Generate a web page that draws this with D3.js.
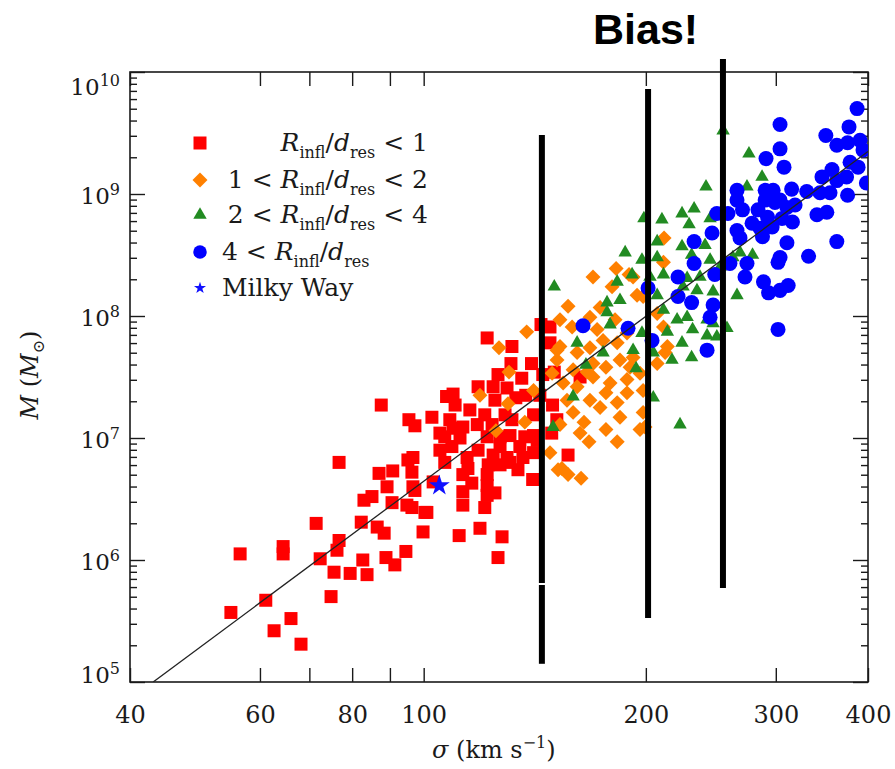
<!DOCTYPE html>
<html>
<head>
<meta charset="utf-8">
<script src="https://cdn.jsdelivr.net/npm/d3@7"></script>
<style>
  body { margin: 0; background: #fff; }
  text { white-space: pre; }
</style>
</head>
<body>
<svg id="chart"></svg>
<script>
// black hole mass vs velocity dispersion, [sigma km/s, log10 M]
const redPoints = [
  [54.8, 5.57], [56.4, 6.05], [61.1, 5.67], [62.7, 5.42], [66.1, 5.52], [68.2, 5.31],
  [64.5, 6.11], [64.5, 6.05], [72.4, 6.01], [71.5, 6.30], [75.6, 5.90], [76.3, 6.08],
  [76.8, 6.16], [74.9, 5.70], [76.8, 6.80], [79.5, 5.89], [82.7, 6.00], [83.8, 5.88],
  [82.3, 6.31], [83.0, 6.49], [85.1, 6.52], [86.5, 6.27], [88.4, 6.22], [87.6, 7.27],
  [87.0, 6.71], [90.8, 6.73], [89.2, 6.60], [88.9, 6.02], [91.4, 5.96], [90.6, 6.47],
  [94.6, 6.07], [94.9, 6.45], [95.2, 6.82], [96.4, 6.72], [97.3, 6.57], [95.5, 7.15],
  [97.3, 7.10], [100.4, 6.39], [99.8, 6.23], [96.7, 6.84], [96.7, 6.60], [96.4, 6.43],
  [101.0, 6.39], [103.0, 6.64], [102.6, 7.17], [107.4, 7.34], [109.6, 7.36], [115.5, 7.23],
  [106.8, 7.01], [109.2, 6.93], [109.6, 7.08], [113.0, 7.09], [118.2, 7.11], [121.0, 7.19],
  [112.0, 7.00], [106.8, 6.80], [114.5, 6.84], [114.8, 6.75], [113.0, 6.70], [113.0, 6.56],
  [113.0, 6.45], [111.7, 6.20], [119.2, 6.26], [121.0, 6.43], [121.9, 6.53], [121.9, 6.61],
  [121.9, 6.70], [122.3, 6.78], [121.9, 7.01], [124.9, 6.55], [124.2, 6.86], [126.9, 6.93],
  [126.9, 7.01], [130.9, 7.02], [129.7, 6.84], [130.9, 6.80], [135.0, 6.93], [137.1, 7.01],
  [136.3, 6.84], [140.9, 7.02], [140.9, 6.88], [140.5, 6.66], [131.7, 7.15], [140.9, 7.19],
  [118.5, 7.42], [124.2, 7.42], [129.7, 7.41], [126.1, 7.52], [135.8, 7.49], [131.3, 7.61],
  [140.0, 7.61], [121.9, 7.82], [131.7, 7.75], [144.2, 7.93], [148.3, 7.91], [148.3, 7.78],
  [149.5, 7.27], [151.5, 7.15], [149.1, 7.04], [156.9, 6.86], [150.3, 7.54], [162.9, 7.50],
  [127.7, 6.19], [126.1, 6.02], [108.5, 7.15], [105.2, 7.04], [142.5, 6.98],
  [110.3, 7.27], [124.9, 7.31], [133.3, 7.33], [123.8, 7.11], [128.9, 7.19], [143.7, 7.35],
  [145.0, 7.52], [118.5, 6.90], [126.9, 6.78], [134.2, 6.74], [105.2, 6.90], [116.2, 6.63],
  [137.5, 7.35]
];

const orangePoints = [
  [211.7, 8.64], [211.3, 8.44], [169.6, 8.32], [182.3, 8.39], [189.8, 8.34], [180.0, 8.24],
  [194.6, 8.17], [192.2, 8.32], [198.3, 8.16], [156.9, 8.08], [173.4, 8.07], [153.0, 7.97],
  [158.9, 7.91], [168.0, 7.99], [171.8, 7.89], [181.7, 7.97], [188.6, 7.86], [175.0, 7.80],
  [153.0, 7.75], [161.4, 7.70], [168.0, 7.74], [182.9, 7.78], [151.6, 7.64], [169.6, 7.61],
  [184.5, 7.64], [192.2, 7.66], [149.3, 7.53], [159.4, 7.56], [166.5, 7.54], [176.6, 7.58],
  [190.4, 7.58], [196.4, 7.53], [154.5, 7.45], [169.6, 7.50], [178.9, 7.45], [188.6, 7.48],
  [161.4, 7.42], [176.6, 7.37], [188.6, 7.37], [156.4, 7.31], [168.0, 7.31], [182.9, 7.29],
  [159.4, 7.21], [173.4, 7.25], [184.5, 7.17], [198.3, 7.21], [153.0, 7.11], [164.9, 7.13],
  [162.9, 7.04], [176.6, 7.07], [196.4, 7.07], [167.5, 6.97], [182.9, 6.97], [148.3, 6.88],
  [153.9, 6.75], [156.9, 6.70], [163.4, 6.67], [212.4, 7.70], [207.2, 7.61], [137.9, 7.87],
  [126.5, 7.74], [130.5, 7.54], [119.2, 7.35], [130.1, 7.28], [140.9, 7.39], [137.1, 7.13],
  [125.3, 7.06], [152.1, 6.74], [151.6, 7.72], [207.2, 8.02], [211.3, 7.91], [213.9, 7.75],
  [198.3, 7.39], [199.5, 7.09]
];

const greenPoints = [
  [254.5, 9.52], [275.9, 9.33], [287.4, 9.14], [274.2, 9.06], [241.3, 9.06], [232.5, 8.88],
  [223.9, 8.84], [198.8, 8.80], [210.3, 8.79], [228.9, 8.75], [244.4, 8.80], [207.2, 8.61],
  [223.9, 8.57], [240.6, 8.58], [187.5, 8.52], [197.6, 8.46], [207.2, 8.48], [211.3, 8.34],
  [230.7, 8.50], [244.4, 8.46], [252.1, 8.40], [268.3, 8.52], [279.0, 8.50], [262.4, 8.48],
  [191.6, 8.34], [182.9, 8.28], [202.6, 8.32], [227.5, 8.31], [236.8, 8.32], [150.3, 8.24],
  [184.5, 8.13], [177.2, 8.11], [207.2, 8.17], [224.6, 8.24], [234.6, 8.21], [246.7, 8.20],
  [265.8, 8.17], [177.2, 8.03], [211.3, 8.05], [220.5, 7.97], [227.5, 7.99], [242.1, 7.97],
  [257.6, 7.90], [178.9, 7.93], [197.6, 7.86], [213.9, 7.87], [231.4, 7.89], [242.1, 7.84],
  [161.4, 7.78], [175.0, 7.70], [192.2, 7.72], [204.7, 7.70], [223.9, 7.78], [230.7, 7.66],
  [165.9, 7.60], [194.0, 7.57], [159.4, 7.34], [204.7, 7.33], [149.7, 7.09], [222.5, 7.11],
  [246.7, 7.94], [249.6, 7.83], [217.0, 7.64]
];

const bluePoints = [
  [386.6, 9.70], [304.0, 9.57], [377.0, 9.55], [350.7, 9.48], [362.9, 9.40], [375.3, 9.42],
  [390.2, 9.44], [304.0, 9.37], [291.0, 9.29], [307.8, 9.22], [393.8, 9.36], [378.2, 9.26],
  [387.8, 9.22], [357.5, 9.20], [346.5, 9.14], [362.9, 9.11], [374.1, 9.14], [398.0, 9.09],
  [265.8, 9.03], [290.2, 9.03], [297.5, 9.03], [315.2, 9.04], [330.4, 9.02], [344.4, 9.01],
  [355.3, 9.01], [375.3, 8.99], [265.8, 8.95], [290.2, 8.95], [299.2, 8.93], [310.6, 8.89],
  [351.8, 8.85], [341.1, 8.83], [270.4, 8.87], [249.6, 8.84], [258.4, 8.84], [278.6, 8.76],
  [292.4, 8.81], [296.6, 8.73], [316.0, 8.77], [245.9, 8.68], [265.8, 8.70], [268.3, 8.64],
  [287.8, 8.65], [232.5, 8.61], [310.6, 8.60], [362.9, 8.61], [332.3, 8.49], [304.0, 8.48],
  [232.5, 8.43], [274.2, 8.43], [272.5, 8.32], [248.0, 8.34], [221.1, 8.32], [260.0, 8.43],
  [288.7, 8.28], [293.3, 8.19], [304.0, 8.21], [311.8, 8.25], [302.1, 8.44], [201.4, 8.23],
  [221.1, 8.16], [230.7, 8.11], [246.7, 8.09], [244.4, 7.99], [203.9, 7.80], [242.1, 7.72],
  [302.1, 7.89], [164.4, 7.92], [189.2, 7.90],
  [304.0, 8.95], [318.6, 8.91], [283.8, 8.87], [305.9, 8.80], [285.6, 8.72]
];

const milkyWay = [[105, 6.61]];

// fitted M-sigma line, two end points
const fitSigma = [43, 400];
const fitMass = [1.0e5, 2.23e9];

// "Bias!" bars (bar at ~145 km/s is drawn in two pieces)
const barSigma = [144.6, 144.6, 201.4, 254.4];
const barTop = [3.05e9, 6.24e5, 7.26e9, 1.28e10];
const barBottom = [6.47e5, 1.41e5, 3.35e5, 5.89e5];

const xTickValues = [40, 60, 70, 80, 90, 100, 200, 300, 400];
const xTickLabels = [40, 60, 80, 100, 200, 300, 400];
const yDecades = [5, 6, 7, 8, 9, 10];

const width = 895, height = 769;
const margin = { top: 72, right: 27, bottom: 87, left: 130 };
const plotW = width - margin.left - margin.right; // 738
const plotH = height - margin.top - margin.bottom; // 610

const serif = "'DejaVu Serif', 'Liberation Serif', serif";
const ink = "#1a1a1a";

const svg = d3.select("#chart").attr("width", width).attr("height", height);

const x = d3.scaleLog().domain([40, 400]).range([margin.left, margin.left + plotW]);
const y = d3.scaleLog().domain([1e5, 1e10]).range([margin.top + plotH, margin.top]);

svg.append("defs").append("clipPath").attr("id", "plot-clip")
  .append("rect")
  .attr("x", margin.left).attr("y", margin.top)
  .attr("width", plotW).attr("height", plotH);

// minor y ticks 2..9 x 10^n
const yMinor = [];
yDecades.slice(0, -1).forEach((n) => {
  for (let k = 2; k <= 9; k++) yMinor.push(k * Math.pow(10, n));
});
const yMajor = yDecades.map((n) => Math.pow(10, n));

function styleAxis(g) {
  g.select(".domain").remove();
  g.selectAll(".tick line").attr("stroke", ink).attr("stroke-width", 1.4);
  g.selectAll(".tick text").filter(function () { return this.textContent === ""; }).remove();
  g.selectAll("text").attr("font-family", serif).attr("font-size", 24).attr("fill", ink);
}

// x axes (ticks point inward)
svg.append("g").attr("class", "x-axis")
  .attr("transform", `translate(0,${margin.top + plotH})`)
  .call(d3.axisBottom(x).tickValues(xTickValues).tickSizeInner(-14).tickSizeOuter(0)
    .tickPadding(24).tickFormat((d) => (xTickLabels.includes(d) ? d : "")))
  .call(styleAxis);

svg.append("g").attr("class", "x-axis-top")
  .attr("transform", `translate(0,${margin.top})`)
  .call(d3.axisTop(x).tickValues(xTickValues).tickSizeInner(-14).tickSizeOuter(0).tickFormat(""))
  .call(styleAxis);

// y axes, left and right, minor + major
svg.append("g").attr("transform", `translate(${margin.left},0)`)
  .call(d3.axisLeft(y).tickValues(yMinor).tickSizeInner(-7).tickSizeOuter(0).tickFormat(""))
  .call(styleAxis);
const yLeft = svg.append("g").attr("class", "y-axis")
  .attr("transform", `translate(${margin.left},0)`)
  .call(d3.axisLeft(y).tickValues(yMajor).tickSizeInner(-15).tickSizeOuter(0).tickFormat(""))
  .call(styleAxis);
svg.append("g").attr("transform", `translate(${margin.left + plotW},0)`)
  .call(d3.axisRight(y).tickValues(yMinor).tickSizeInner(-7).tickSizeOuter(0).tickFormat(""))
  .call(styleAxis);
svg.append("g").attr("transform", `translate(${margin.left + plotW},0)`)
  .call(d3.axisRight(y).tickValues(yMajor).tickSizeInner(-15).tickSizeOuter(0).tickFormat(""))
  .call(styleAxis);

// 10^n labels
yLeft.selectAll(".tick").each(function (d) {
  const n = Math.round(Math.log10(d));
  const shift = n === 10 ? 22 : n === 5 ? 0 : 9;
  const t = d3.select(this).append("text")
    .attr("x", -10).attr("y", shift)
    .attr("text-anchor", "end")
    .attr("font-family", serif).attr("font-size", 23).attr("fill", ink);
  t.append("tspan").text("10");
  t.append("tspan").attr("font-size", 16).attr("dy", -9).text(n);
});

// frame
svg.append("rect")
  .attr("x", margin.left).attr("y", margin.top)
  .attr("width", plotW).attr("height", plotH)
  .attr("fill", "none").attr("stroke", ink).attr("stroke-width", 1.6);

// points
const plot = svg.append("g").attr("clip-path", "url(#plot-clip)");

const sqSym = d3.symbol().type(d3.symbolSquare).size(169);
const diaSym = d3.symbol().type(d3.symbolSquare).size(112);
const triSym = d3.symbol().type(d3.symbolTriangle).size(78);
const cirSym = d3.symbol().type(d3.symbolCircle).size(177);
const starSym = d3.symbol().type(d3.symbolStar).size(136);

const series = [
  { data: redPoints, sym: sqSym, color: "#ff0000", rot: 0 },
  { data: orangePoints, sym: diaSym, color: "#ff8000", rot: 45 },
  { data: greenPoints, sym: triSym, color: "#228b22", rot: 0 },
  { data: bluePoints, sym: cirSym, color: "#0000ff", rot: 0 },
  { data: milkyWay, sym: starSym, color: "#1010ff", rot: 0 },
];

series.forEach((s) => {
  plot.append("g")
    .selectAll("path")
    .data(s.data)
    .enter()
    .append("path")
    .attr("d", s.sym())
    .attr("fill", s.color)
    .attr("transform", (d) =>
      `translate(${x(d[0])},${y(Math.pow(10, d[1]))}) rotate(${s.rot})`);
});

// fit line
plot.append("path")
  .datum(d3.zip(fitSigma, fitMass))
  .attr("fill", "none")
  .attr("stroke", "#222")
  .attr("stroke-width", 1.3)
  .attr("d", d3.line().x((d) => x(d[0])).y((d) => y(d[1])));

// bars
svg.append("g").selectAll("line")
  .data(d3.range(barSigma.length))
  .enter()
  .append("line")
  .attr("x1", (i) => x(barSigma[i])).attr("x2", (i) => x(barSigma[i]))
  .attr("y1", (i) => y(barTop[i])).attr("y2", (i) => y(barBottom[i]))
  .attr("stroke", "#000").attr("stroke-width", 6);

// legend
const legendY = [143, 180, 215, 252, 288];
const legendSyms = [
  { sym: sqSym, color: "#ff0000", rot: 0 },
  { sym: diaSym, color: "#ff8000", rot: 45 },
  { sym: triSym, color: "#228b22", rot: 0 },
  { sym: cirSym, color: "#0000ff", rot: 0 },
  { sym: d3.symbol().type(d3.symbolStar).size(45), color: "#1010ff", rot: 0 },
];
const legendPrefix = ["", "1 < ", "2 < ", "4 < ", ""];
const legendSuffix = [" < 1", " < 2", " < 4", "", ""];

const legend = svg.append("g").attr("class", "legend");
legendSyms.forEach((s, i) => {
  legend.append("path")
    .attr("d", s.sym())
    .attr("fill", s.color)
    .attr("transform", `translate(200,${legendY[i]}) rotate(${s.rot}) scale(${i === 3 ? 0.9 : 1})`);

  const t = legend.append("text")
    .attr("x", i < 3 ? 428 : 222)
    .attr("y", legendY[i] + 8)
    .attr("text-anchor", i < 3 ? "end" : "start")
    .attr("font-family", serif).attr("font-size", 25).attr("fill", ink);

  if (i === 4) {
    t.text("Milky Way");
    return;
  }
  if (legendPrefix[i]) t.append("tspan").text(legendPrefix[i]);
  t.append("tspan").attr("font-style", "italic").text("R");
  t.append("tspan").attr("font-size", 16).attr("dy", 7).text("infl");
  t.append("tspan").attr("dy", -7).text("/");
  t.append("tspan").attr("font-style", "italic").text("d");
  t.append("tspan").attr("font-size", 16).attr("dy", 7).text("res");
  if (legendSuffix[i]) t.append("tspan").attr("dy", -7).text(legendSuffix[i]);
});

// axis titles
const xt = svg.append("text")
  .attr("x", 432).attr("y", 758)
  .attr("font-family", serif).attr("font-size", 24).attr("fill", ink);
xt.append("tspan").attr("font-style", "italic").text("σ");
xt.append("tspan").text(" (km s");
xt.append("tspan").attr("font-size", 16).attr("dy", -10).text("−1");
xt.append("tspan").attr("dy", 10).text(")");

const yt = svg.append("text")
  .attr("transform", "translate(38,375) rotate(-90)")
  .attr("text-anchor", "middle")
  .attr("font-family", serif).attr("font-size", 24).attr("fill", ink);
yt.append("tspan").attr("font-style", "italic").text("M");
yt.append("tspan").text(" (");
yt.append("tspan").attr("font-style", "italic").text("M");
yt.append("tspan").attr("font-size", 16).attr("dy", 6).text("⊙");
yt.append("tspan").attr("dy", -6).text(")");

// annotation
svg.append("text")
  .attr("x", 593).attr("y", 44)
  .attr("font-family", "'Liberation Sans', Arial, sans-serif")
  .attr("font-weight", "bold").attr("font-size", 43).attr("fill", "#000")
  .text("Bias!");
</script>
</body>
</html>
